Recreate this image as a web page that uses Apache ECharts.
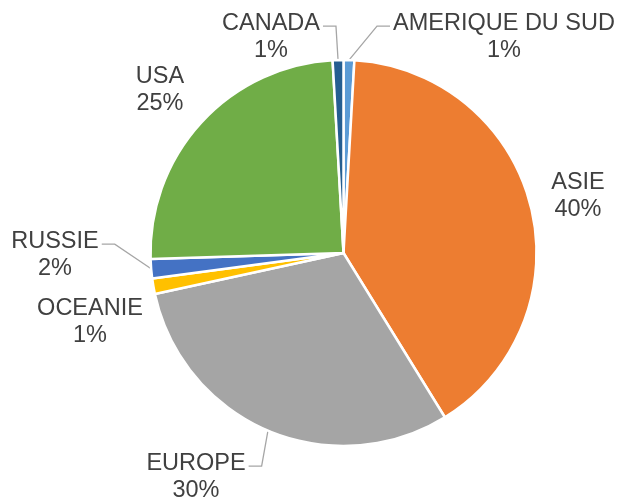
<!DOCTYPE html>
<html>
<head>
<meta charset="utf-8">
<script src="https://cdn.jsdelivr.net/npm/echarts@6/dist/echarts.min.js"></script>
<style>
  html, body { margin: 0; padding: 0; background: #fff; }
  #chart { width: 620px; height: 500px; }
</style>
</head>
<body>
<div id="chart"></div>
<script>
// regions, clockwise from 12 o'clock
const regions = ["AMERIQUE DU SUD", "ASIE", "EUROPE", "OCEANIE", "RUSSIE", "USA", "CANADA"];
const shares = [0.9, 40.3, 30.4, 1.3, 1.6, 24.6, 0.9];
const colors = ["#5B9BD5", "#ED7D31", "#A5A5A5", "#FFC000", "#4472C4", "#70AD47", "#255E91"];
const showLeader = [true, false, true, false, true, false, true];

// where each data label sits (centre of the two-line block)
const labelSpots = [
  [504, 37], [578, 196], [196, 477], [90, 322], [55, 255], [160, 90], [271, 37]
];

const chart = echarts.init(document.getElementById("chart"));

chart.setOption({
  animation: false,
  series: [
    {
      type: "pie",
      center: [343.5, 253],
      radius: 193,
      startAngle: 90,
      clockwise: true,
      avoidLabelOverlap: false,
      itemStyle: {
        borderColor: "#ffffff",
        borderWidth: 2.5
      },
      label: {
        show: true,
        position: "outside",
        fontFamily: "Liberation Sans, Arial, sans-serif",
        fontSize: 23.5,
        lineHeight: 27,
        color: "#404040",
        align: "center",
        formatter: function (p) {
          return p.name + "\n" + Math.round(p.percent) + "%";
        }
      },
      labelLine: {
        length: 10,
        length2: 10,
        smooth: false,
        lineStyle: { color: "#A6A6A6", width: 1.3 }
      },
      // excel style leader: short horizontal tick off the label, then straight to the slice
      labelLayout: function (params) {
        const i = params.dataIndex;
        const s = labelSpots[i];
        const out = { x: s[0], y: s[1], align: "center", verticalAlign: "middle" };
        const pts = params.labelLinePoints;
        if (showLeader[i] && pts && pts.length) {
          const w = params.labelRect.width;
          const h = params.labelRect.height;
          const p0 = pts[0];
          const toLeft = s[0] < p0[0];
          const edgeX = toLeft ? s[0] + w / 2 + 3 : s[0] - w / 2 - 3;
          const ly = s[1] - h / 2 + h * 0.3;
          const bend = toLeft ? edgeX + 13 : edgeX - 13;
          out.labelLinePoints = [[p0[0], p0[1]], [bend, ly], [edgeX, ly]];
        }
        return out;
      },
      data: regions.map((name, i) => ({
        name: name,
        value: shares[i],
        itemStyle: { color: colors[i] },
        labelLine: { show: showLeader[i] }
      }))
    }
  ]
});
</script>
</body>
</html>
